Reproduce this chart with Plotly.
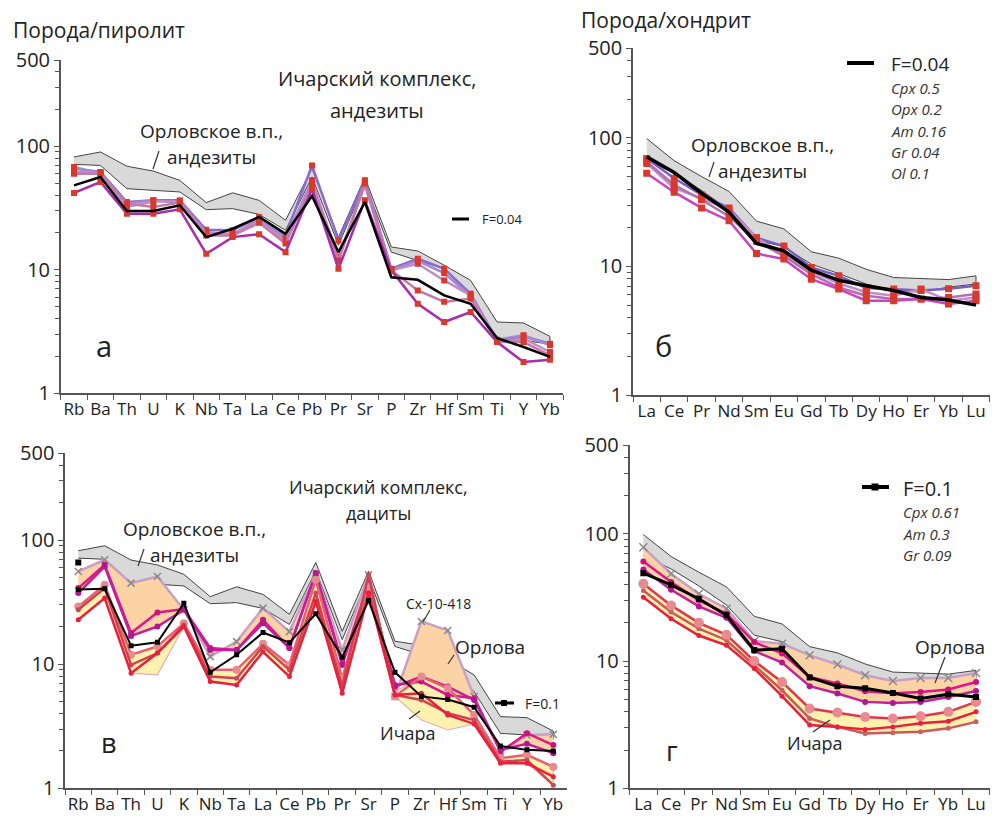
import math
import plotly.graph_objects as go

W, H = 992, 821

# ---------------- DATA ----------------
spider_cats = ["Rb", "Ba", "Th", "U", "K", "Nb", "Ta", "La", "Ce", "Pb", "Pr", "Sr", "P", "Zr", "Hf", "Sm", "Ti", "Y", "Yb"]
ree_cats = ["La", "Ce", "Pr", "Nd", "Sm", "Eu", "Gd", "Tb", "Dy", "Ho", "Er", "Yb", "Lu"]

# Орловское в.п., андезиты (field) – spider
orl_hi_spider = [82, 90, 69, 63, 53, 35, 42, 36.5, 25.2, 66, 18.4, 56, 15.3, 14.2, 10.9, 8.2, 3.78, 3.71, 2.89]
orl_lo_spider = [71.5, 70, 45.4, 44, 42.7, 30.7, 31.3, 28.1, 20.9, 56.5, 15.8, 49.9, 13.9, 11.9, 10.2, 6.0, 2.77, 2.69, 2.49]
# Орловское field – REE
orl_hi_ree = [98.8, 66.4, 50, 38.3, 22.5, 19.6, 13, 11.6, 9.5, 8.2, 8.05, 7.9, 8.45]
orl_lo_ree = [67.3, 53, 39, 27.6, 16, 14.2, 10.4, 8.8, 7.3, 6.5, 6.3, 6.9, 7.3]

# panel а – andesites
f004_spider = [48.3, 56.5, 29.9, 29.9, 33.3, 18.4, 21.5, 26.8, 19.6, 39.6, 13.9, 35.4, 8.7, 8.3, 6.2, 5.3, 2.8, 2.37, 1.97]
and_a1 = [41.9, 51.4, 28.5, 28.5, 30.9, 13.5, 18.4, 19.4, 13.9, 45, 10.2, 36.5, 9.9, 5.3, 3.78, 4.55, 2.6, 1.79, 1.87]
and_a2 = [66, 62, 35.4, 36.5, 36.5, 21.1, 20.9, 26.8, 19, 70, 17.3, 53, 10.2, 12.3, 10.2, 6.4, 2.69, 2.89, 2.52]
and_a3 = [62, 61, 32.3, 35.7, 35.7, 19.6, 19.6, 24.4, 17.3, 51.4, 12.7, 48.3, 9.9, 11.2, 8.2, 6.2, 2.6, 2.77, 2.16]
and_a4 = [60, 60, 34.4, 32.3, 35, 19, 19, 24, 16.3, 48.3, 11.9, 49.9, 9.9, 6.8, 5.5, 5.85, 2.6, 2.6, 2.03]
and_a5 = [68, 60, 34.4, 36.5, 35, 20.2, 19.4, 25.8, 17.9, 53, 11.9, 51.4, 10, 11.8, 9.4, 6.1, 2.72, 2.95, 2.45]

# panel б – andesites REE
f004_ree = [71.3, 53.7, 37.1, 26.5, 15.1, 13.2, 9.35, 7.8, 7.07, 6.5, 5.74, 5.48, 5.0]
and_b1 = [53, 37.8, 28.5, 22.7, 12.6, 11.4, 7.96, 6.67, 5.42, 5.42, 5.58, 5.1, 5.4]
and_b2 = [69.2, 48.5, 36, 28.5, 16.7, 14.4, 9.8, 8.45, 6.8, 6.67, 6.5, 6.7, 7.07]
and_b3 = [65.3, 43.1, 33, 24.5, 15.7, 12.05, 8.7, 6.86, 5.92, 5.58, 5.58, 5.74, 6.1]
and_b4 = [63.3, 40.6, 34, 27.6, 16.7, 12.4, 9.2, 7.37, 6.3, 5.92, 6.67, 5.42, 5.74]

# panel в – dacites spider
cx_spider = [55.8, 69.3, 45, 50.9, 27.4, 11.5, 15.2, 28.3, 18.3, 54.2, 13, 52.5, 5.5, 22.1, 18.7, 5.5, 1.97, 2.69, 2.72]
orlova_lo_spider = [37.4, 61.2, 16.9, 20.1, 27.4, 13.0, 13.0, 21.4, 13.5, 53.6, 9.87, 42.3, 6.6, 7.24, 5.65, 5.15, 1.97, 2.28, 1.92]
ichara_hi_spider = [29.1, 43.6, 11.9, 13.9, 21.4, 9.0, 9.0, 14.6, 9.87, 47.9, 7.7, 52.5, 6.0, 7.95, 6.4, 4.0, 1.75, 1.86, 1.49]
ichara_lo_spider = [22.8, 34.1, 8.46, 8.2, 20.1, 7.24, 6.8, 12.6, 7.95, 32, 5.84, 37.4, 5.5, 3.55, 2.95, 3.3, 1.59, 1.59, 1.06]
orl_v1 = [41, 63.2, 17.8, 26.1, 27.8, 13.5, 13.0, 22.8, 13.5, 54.2, 10.2, 45, 6.8, 7.24, 5.65, 5.32, 1.97, 2.78, 2.23]
orl_v2 = [37.4, 61.2, 16.9, 20.1, 27.4, 13.0, 13.0, 21.4, 13.5, 53.6, 9.87, 42.3, 6.6, 7.95, 6.6, 5.15, 2.04, 2.28, 1.92]
ich_v1 = [22.8, 34.1, 8.46, 12.3, 20.1, 7.24, 6.8, 12.6, 7.95, 32, 5.84, 37.4, 5.65, 5.84, 3.9, 3.3, 1.59, 1.59, 1.24]
ich_v2 = [29.1, 43.6, 11.9, 13.9, 21.4, 9.0, 9.0, 14.6, 9.87, 47.9, 7.7, 42.3, 5.5, 7.95, 6.4, 3.9, 1.75, 1.86, 1.49]
ich_v3 = [27.4, 41, 9.87, 12.3, 20.7, 7.95, 7.7, 13.9, 9.0, 37.4, 6.6, 52.5, 5.65, 5.15, 4.03, 3.55, 1.64, 1.69, 1.06]
f01_spider = [40, 40.6, 14.1, 15, 31, 8.6, 11.9, 18, 14.9, 25.5, 11.4, 32.6, 8.6, 5.5, 5.2, 4.5, 2.19, 2.04, 2.0]
f01_extra_cat = ["Rb"]
f01_extra_val = [66]

# panel г – dacites REE
cx_ree = [78.5, 48.6, 33.8, 25.8, 14.4, 13.7, 11.1, 9.4, 7.74, 6.98, 7.37, 7.37, 8.07]
f01_ree = [49.1, 39.8, 30.9, 22.9, 12.2, 12.5, 7.43, 6.35, 6.12, 5.62, 5.08, 5.49, 5.23]
orl_g1 = [60.6, 41.8, 30, 23.6, 14.1, 11.5, 7.5, 6.66, 5.8, 5.6, 5.72, 5.98, 6.86]
orl_g2 = [52.5, 36.4, 26.9, 21.9, 12, 9.73, 6.35, 5.56, 4.78, 4.69, 4.78, 5.23, 5.83]
ich_g1 = [40.5, 27.4, 20, 16.1, 10, 6.86, 4.24, 3.94, 3.64, 3.54, 3.69, 3.99, 4.78]
ich_g2 = [31.8, 21.5, 15.9, 13.3, 8.73, 5.3, 3.14, 3.04, 2.9, 3.04, 3.24, 3.37, 3.99]
ich_g3 = [35.9, 24.3, 18, 14.6, 9.27, 5.9, 3.54, 3.04, 2.7, 2.73, 2.78, 2.96, 3.33]
ichara_lo_ree = [31.8, 21.5, 15.9, 13.3, 8.73, 5.3, 3.14, 3.04, 2.7, 2.73, 2.78, 2.96, 3.33]

ytick_vals = [1, 10, 100, 500]
ytick_text = ["1", "10", "100", "500"]
yminor_vals = [2, 3, 4, 5, 6, 7, 8, 9, 20, 30, 40, 50, 60, 70, 80, 90, 200, 300, 400]

# ---------------- STYLE ----------------
FONT = "Open Sans, DejaVu Sans, sans-serif"
TXT = "#222222"
AX = "#555555"
GRAY_FILL = "#d9d9d9"
ORANGE_FILL = "#fcd3a4"
YELLOW_FILL = "#fff1b0"
SQ_RED = "#d8392b"

fig = go.Figure()


def band(cats, hi, lo, fill, line_color, line_w, xa, ya):
    fig.add_trace(go.Scatter(
        x=list(cats) + list(cats)[::-1], y=list(hi) + list(lo)[::-1],
        mode="lines", fill="toself", fillcolor=fill,
        line=dict(color=line_color, width=line_w), xaxis=xa, yaxis=ya,
        showlegend=False, hoverinfo="skip"))


def series(cats, vals, color, width, xa, ya, msym=None, msize=6, mcolor=None, mline=None):
    kw = dict(mode="lines")
    if msym is not None:
        kw["mode"] = "lines+markers"
        kw["marker"] = dict(symbol=msym, size=msize, color=mcolor or color,
                            line=mline or dict(width=0))
    fig.add_trace(go.Scatter(x=cats, y=vals, line=dict(color=color, width=width),
                             xaxis=xa, yaxis=ya, showlegend=False, **kw))


# ---- panel а ----
band(spider_cats, orl_hi_spider, orl_lo_spider, GRAY_FILL, "#444444", 1, "x", "y")
for vals, col in [(and_a2, "#8a6cd0"), (and_a5, "#a688d0"), (and_a3, "#bf8cc4"),
                  (and_a4, "#c47aa8"), (and_a1, "#a82cb0")]:
    series(spider_cats, vals, col, 2.5, "x", "y", "square", 6, SQ_RED)
series(spider_cats, f004_spider, "#000000", 2.5, "x", "y")

# ---- panel б ----
band(ree_cats, orl_hi_ree, orl_lo_ree, GRAY_FILL, "#444444", 1, "x2", "y2")
for vals, col in [(and_b2, "#7a5cc8"), (and_b4, "#c48cc8"), (and_b3, "#b070b0"),
                  (and_b1, "#c844c0")]:
    series(ree_cats, vals, col, 2.5, "x2", "y2", "square", 7, SQ_RED)
series(ree_cats, f004_ree, "#000000", 3.5, "x2", "y2")

# ---- panel в ----
band(spider_cats, orl_hi_spider, orl_lo_spider, GRAY_FILL, "#444444", 1, "x3", "y3")
band(spider_cats, cx_spider, orlova_lo_spider, ORANGE_FILL, "rgba(0,0,0,0)", 0, "x3", "y3")
band(spider_cats, ichara_hi_spider, ichara_lo_spider, YELLOW_FILL, "#e0b0b8", 1.2, "x3", "y3")
series(spider_cats, cx_spider, "#c8a0c4", 2.5, "x3", "y3", "x-thin", 7, "#8a8a8a",
       dict(width=1.5, color="#8a8a8a"))
series(spider_cats, orl_v1, "#e0148c", 2.5, "x3", "y3", "circle", 6, "#d0107a")
series(spider_cats, orl_v2, "#c0209a", 2.5, "x3", "y3", "circle", 6, "#b01890")
series(spider_cats, ich_v2, "#e8606e", 2.5, "x3", "y3", "circle", 8, "#e88a92")
series(spider_cats, ich_v3, "#d04250", 2.5, "x3", "y3", "circle", 5, "#c84a55")
series(spider_cats, ich_v1, "#e8203c", 2.5, "x3", "y3", "circle", 5, "#e8203c")
series(spider_cats, f01_spider, "#000000", 2, "x3", "y3", "square", 5, "#000000")
fig.add_trace(go.Scatter(x=f01_extra_cat, y=f01_extra_val, mode="markers",
                         marker=dict(symbol="square", size=6, color="#000000"),
                         xaxis="x3", yaxis="y3", showlegend=False))

# ---- panel г ----
band(ree_cats, orl_hi_ree, orl_lo_ree, GRAY_FILL, "#444444", 1, "x4", "y4")
band(ree_cats, cx_ree, orl_g2, ORANGE_FILL, "rgba(0,0,0,0)", 0, "x4", "y4")
band(ree_cats, ich_g1, ichara_lo_ree, YELLOW_FILL, "rgba(0,0,0,0)", 0, "x4", "y4")
series(ree_cats, cx_ree, "#c8a0c4", 2.5, "x4", "y4", "x-thin", 8, "#8a8a8a",
       dict(width=1.5, color="#8a8a8a"))
series(ree_cats, orl_g1, "#e0148c", 2.5, "x4", "y4", "circle", 6, "#d0107a")
series(ree_cats, orl_g2, "#c0209a", 2.5, "x4", "y4", "circle", 6, "#b01890")
series(ree_cats, ich_g3, "#c85a5a", 2.5, "x4", "y4", "circle", 5, "#c86060")
series(ree_cats, ich_g2, "#e8203c", 2.5, "x4", "y4", "circle", 5, "#e8203c")
series(ree_cats, ich_g1, "#e03848", 2.5, "x4", "y4", "circle", 10, "#e88a92")
series(ree_cats, f01_ree, "#000000", 3, "x4", "y4", "square", 6, "#000000")


# ---------------- AXES ----------------
def px(x, y):
    return x / W, 1 - y / H


def xax(domain, cats, anchor):
    return dict(domain=domain, anchor=anchor, type="category", categoryorder="array",
                categoryarray=cats, automargin=False,
                range=[-0.5, len(cats) - 0.5], showline=True, linecolor=AX, linewidth=1.5,
                ticks="outside", ticklen=5, tickcolor=AX, tickwidth=1.2, tickson="boundaries",
                tickangle=0, showgrid=False, zeroline=False,
                tickfont=dict(family=FONT, size=17, color=TXT), fixedrange=True)


def yax(domain, anchor):
    return dict(domain=domain, anchor=anchor, type="log", range=[0, math.log10(500)],
                automargin=False,
                showline=True, linecolor=AX, linewidth=1.5, ticks="outside", ticklen=5,
                tickcolor=AX, tickwidth=1.2, tickvals=ytick_vals, ticktext=ytick_text,
                minor=dict(tickvals=yminor_vals, ticks="outside", ticklen=4, tickcolor=AX,
                           tickwidth=1, showgrid=False),
                showgrid=False, zeroline=False, tickfont=dict(family=FONT, size=20, color=TXT),
                fixedrange=True)


fig.update_layout(
    width=W, height=H, margin=dict(l=0, r=0, t=0, b=0, autoexpand=False),
    paper_bgcolor="white", plot_bgcolor="white", showlegend=False,
    xaxis=xax([60.8 / W, 563.2 / W], spider_cats, "y"),
    yaxis=yax([1 - 393.3 / H, 1 - 60 / H], "x"),
    xaxis2=xax([633 / W, 989.7 / W], ree_cats, "y2"),
    yaxis2=yax([1 - 395 / H, 1 - 48 / H], "x2"),
    xaxis3=xax([65.1 / W, 566.5 / W], spider_cats, "y3"),
    yaxis3=yax([1 - 788.3 / H, 1 - 453.3 / H], "x3"),
    xaxis4=xax([629.5 / W, 989.9 / W], ree_cats, "y4"),
    yaxis4=yax([1 - 788.3 / H, 1 - 445 / H], "x4"),
)

annotations = []
shapes = []


def text(x, y, s, size=17, xanchor="center", italic=False, color=TXT):
    xp, yp = px(x, y)
    t = "<i>" + s + "</i>" if italic else s
    annotations.append(dict(x=xp, y=yp, xref="paper", yref="paper", text=t, showarrow=False,
                            xanchor=xanchor, yanchor="middle",
                            font=dict(family=FONT, size=size, color=color)))


def seg(x0, y0, x1, y1, color="#333333", width=1.2):
    a0, b0 = px(x0, y0)
    a1, b1 = px(x1, y1)
    shapes.append(dict(type="line", xref="paper", yref="paper", x0=a0, y0=b0, x1=a1, y1=b1,
                       line=dict(color=color, width=width)))


def square(x, y, s=3):
    a0, b0 = px(x - s, y + s)
    a1, b1 = px(x + s, y - s)
    shapes.append(dict(type="rect", xref="paper", yref="paper", x0=a0, y0=b0, x1=a1, y1=b1,
                       fillcolor="#000000", line=dict(width=0)))


# axis titles
text(11, 30, "Порода/пиролит", 21, "left")
text(579, 20, "Порода/хондрит", 21, "left")

# panel а
text(377, 78, "Ичарский комплекс,", 20)
text(377, 110, "андезиты", 20)
text(211, 131, "Орловское в.п.,", 19)
text(211, 157, "андезиты", 19)
seg(159, 151, 153, 169)
seg(452, 219, 469, 219, "#000000", 3)
text(480, 219, "F=0.04", 13, "left")
text(104, 345, "а", 29)

# panel б
seg(847, 63, 874, 63, "#000000", 4)
text(889, 64, "F=0.04", 19, "left")
for i, s in enumerate(["Cpx 0.5", "Opx 0.2", "Am 0.16", "Gr 0.04", "Ol 0.1"]):
    text(889, 88 + 21.3 * i, s, 15, "left", italic=True, color="#333333")
text(762, 145, "Орловское в.п.,", 19)
text(762, 171, "андезиты", 19)
seg(714, 162, 709, 177)
text(663, 345, "б", 29)

# panel в
text(378, 487, "Ичарский комплекс,", 18)
text(378, 513, "дациты", 18)
text(194, 529, "Орловское в.п.,", 19)
text(194, 555, "андезиты", 19)
seg(144, 549, 138, 566)
text(438, 603, "Сх-10-418", 14)
seg(430, 610, 423, 622)
text(490, 647, "Орлова", 19)
seg(454, 655, 448, 664)
text(408, 733, "Ичара", 18)
seg(409, 719, 420, 711)
seg(495, 703, 514, 703, "#000000", 3)
square(504, 703, 3)
text(523, 703, "F=0.1", 14, "left")
text(109, 742, "в", 27)

# panel г
seg(862, 487, 889, 487, "#000000", 4)
square(875, 487, 3.5)
text(901, 488, "F=0.1", 20, "left")
for i, s in enumerate(["Cpx 0.61", "Am 0.3", "Gr 0.09"]):
    text(901, 512 + 21.6 * i, s, 15, "left", italic=True, color="#333333")
text(950, 647, "Орлова", 19)
seg(945, 657, 935, 683)
text(815, 743, "Ичара", 18)
seg(813, 732, 830, 720)
text(672, 750, "г", 27)

fig.update_layout(annotations=annotations, shapes=shapes)
fig.write_html("out.html", config={"displayModeBar": False},
               post_script="document.body.style.margin='0';")
